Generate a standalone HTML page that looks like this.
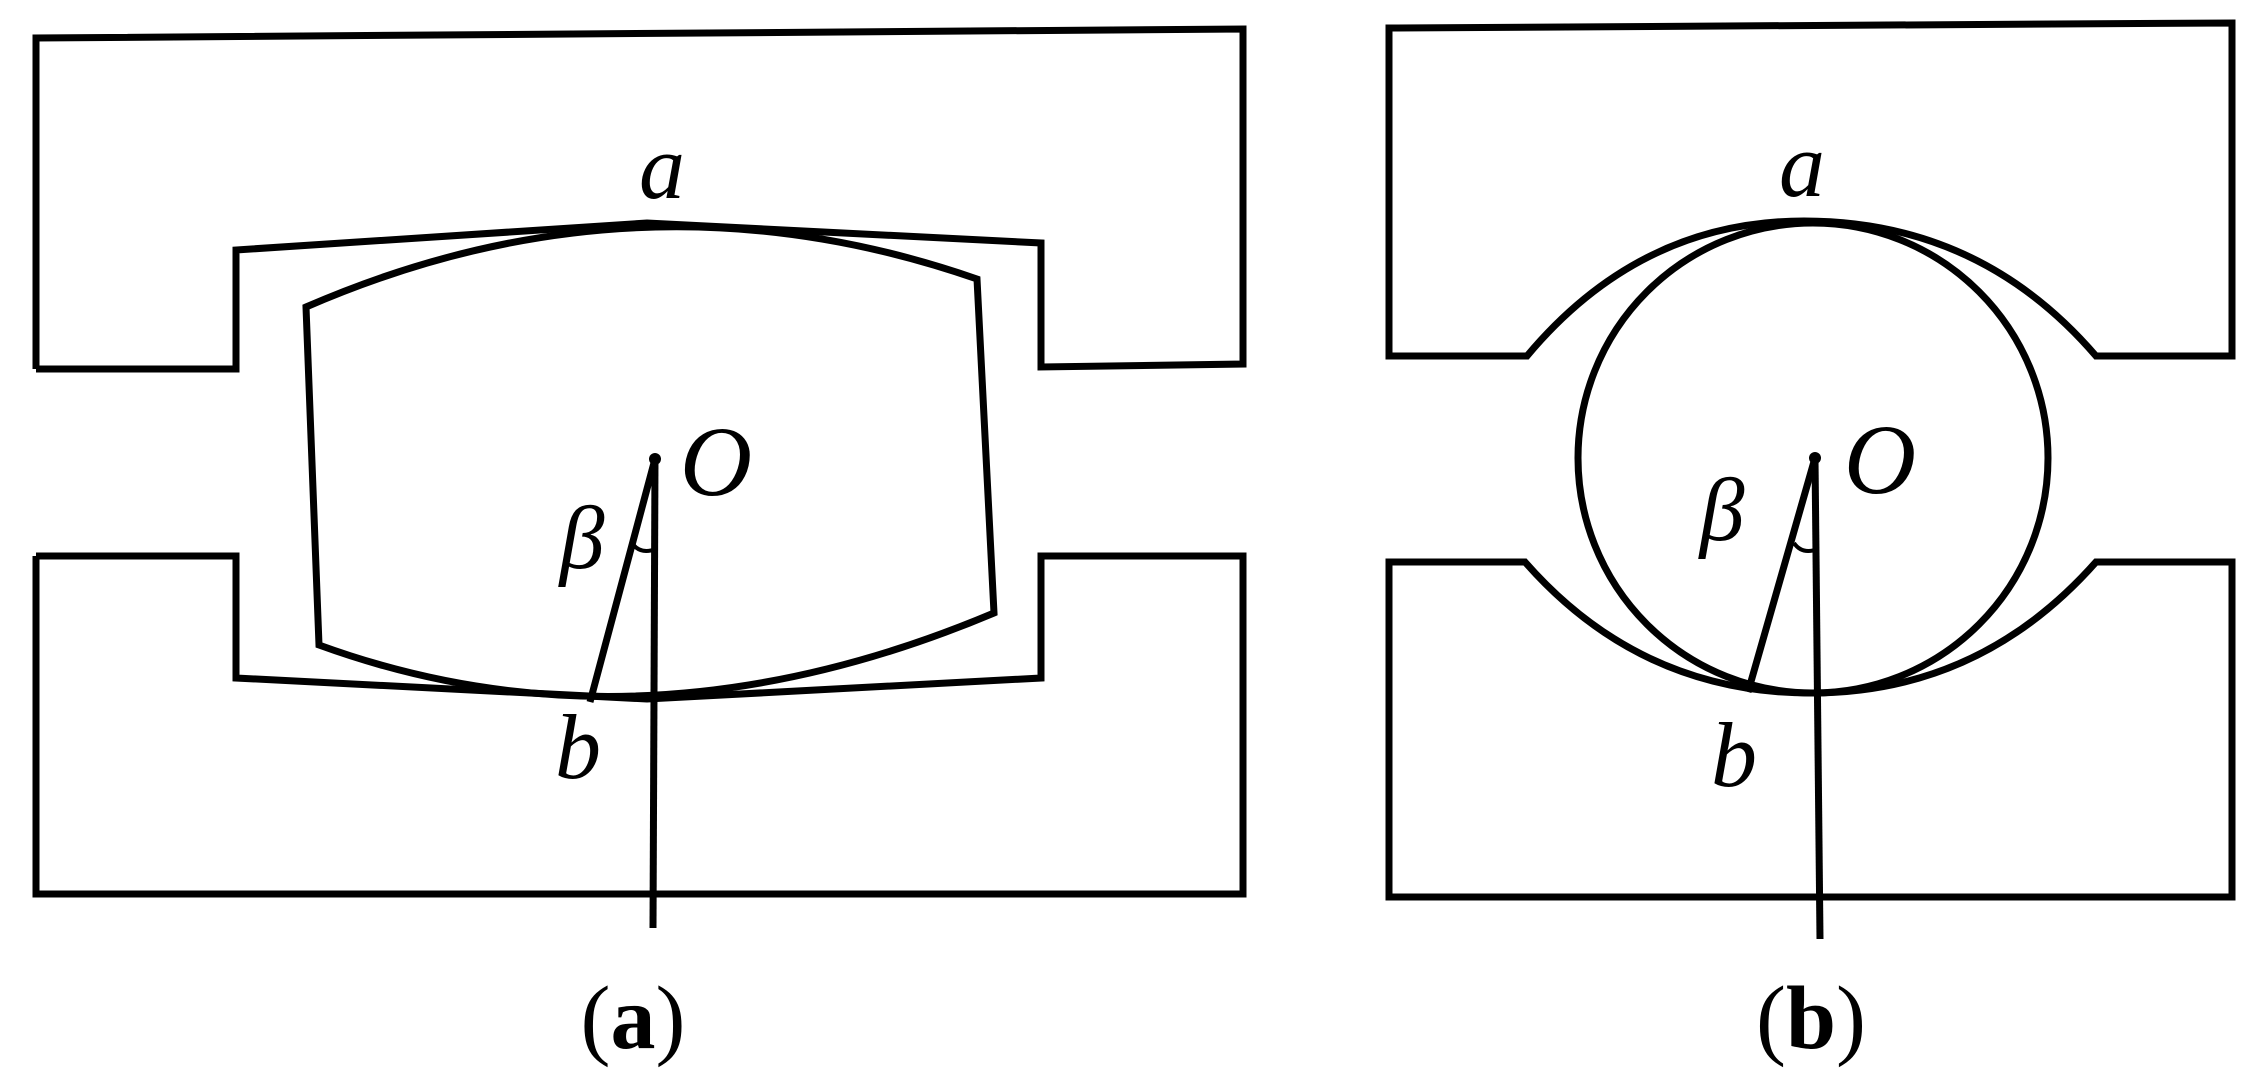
<!DOCTYPE html>
<html><head><style>html,body{margin:0;padding:0;background:#fff}svg{display:block}</style></head>
<body>
<svg width="2256" height="1073" viewBox="0 0 2256 1073" xmlns="http://www.w3.org/2000/svg">
<g fill="none" stroke="#000" stroke-width="7" stroke-linejoin="miter">
<!-- panel a -->
<polyline points="36,369 236,369 236,250 647,223 1041,243 1041,367 1243,364 1243,29 36,38 36,369"/>
<polyline points="36,556 236,556 236,678 647,699 1041,678 1041,556 1243,556 1243,894 36,894 36,556"/>
<path d="M306,307 Q640,162 977,279 L994,613 Q640,762 319,645 Z"/>
<line x1="655" y1="459" x2="653" y2="928"/>
<line x1="655" y1="459" x2="590" y2="702"/>
<path d="M632,543 Q640,555 656,549" stroke-width="4"/>
<!-- panel b -->
<path d="M1389,28 L1389,356 L1527,356 Q1640,221 1804,221 Q1980,221 2096,356 L2232,356 L2232,23 Z"/>
<path d="M1389,562 L1525,562 Q1640,693 1811,693 Q1980,693 2096,562 L2232,562 L2232,897 L1389,897 Z"/>
<circle cx="1813" cy="458" r="235"/>
<line x1="1815" y1="458" x2="1820" y2="939"/>
<line x1="1815" y1="458" x2="1748" y2="692"/>
<path d="M1794,543 Q1802,555 1818,549" stroke-width="4"/>
</g>
<g fill="#000">
<circle cx="655" cy="459" r="6"/><circle cx="1815" cy="458" r="6"/>
<circle cx="647" cy="225" r="4"/><circle cx="1804" cy="222" r="4"/>
</g>
<g font-family="Liberation Serif, serif" font-style="italic" fill="#000" text-anchor="middle">
<text x="662" y="198" font-size="92">a</text>
<text x="716" y="495" font-size="100">O</text>
<text x="582" y="568" font-size="90">β</text>
<text x="578" y="778" font-size="92">b</text>
<text x="1802" y="196" font-size="92">a</text>
<text x="1880" y="493" font-size="100">O</text>
<text x="1722" y="540" font-size="90">β</text>
<text x="1734" y="786" font-size="92">b</text>
</g>
<g font-family="Liberation Serif, serif" font-size="90" fill="#000" text-anchor="middle">
<text x="633" y="1048">(<tspan font-weight="bold">a</tspan>)</text>
<text x="1811" y="1048">(<tspan font-weight="bold">b</tspan>)</text>
</g>
</svg>
</body></html>
